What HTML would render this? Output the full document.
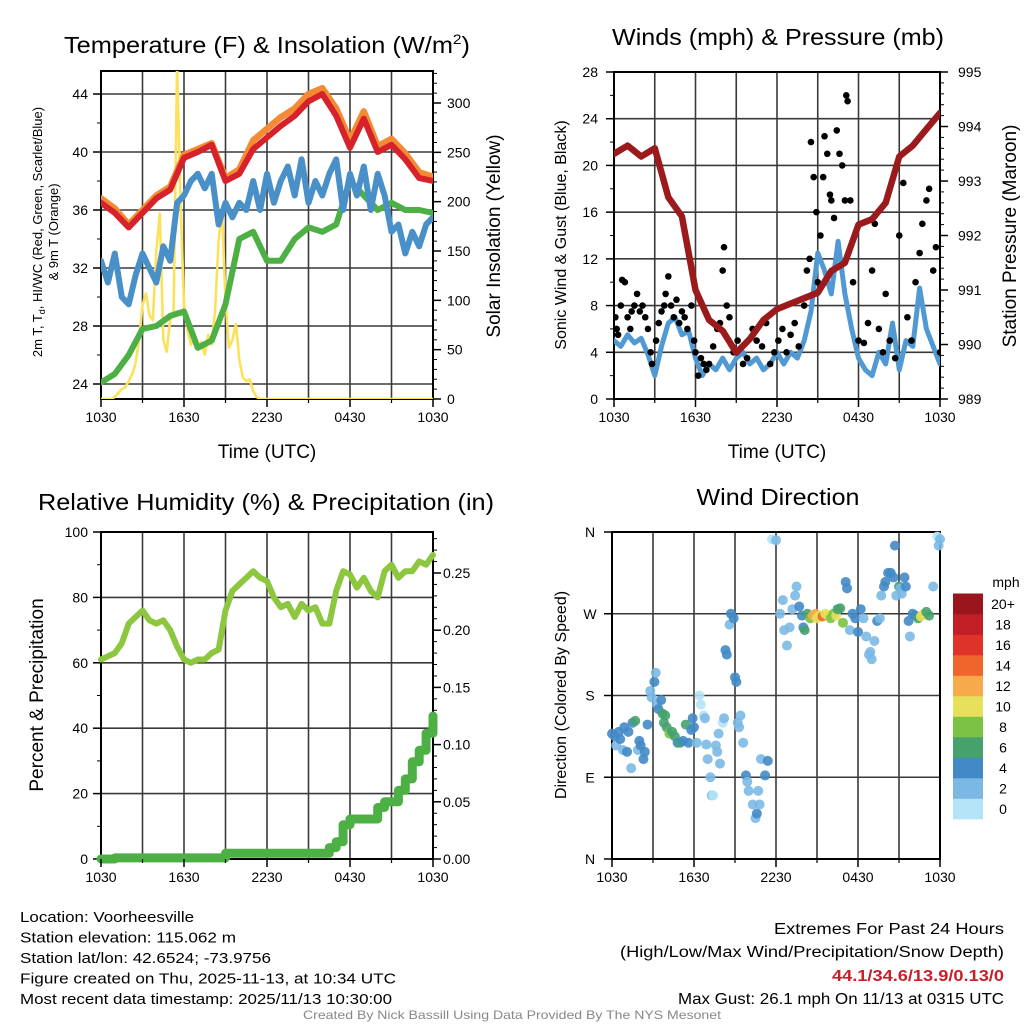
<!DOCTYPE html>
<html><head><meta charset="utf-8"><style>
html,body{margin:0;padding:0;background:#fff;}
svg{display:block;font-family:"Liberation Sans",sans-serif;}
</style></head><body>
<svg id="c" width="1024" height="1024" viewBox="0 0 1024 1024" xmlns="http://www.w3.org/2000/svg"></svg>
<script>
// ---------- DATA ----------
const hourTicks = ["1030","1630","2230","0430","1030"];
// Panel 1 (hourly, h=0..24 from 1030 UTC)
const tempF = [36.5,35.8,34.8,35.8,36.8,37.4,39.6,40.0,40.5,38.0,38.5,40.2,41.0,41.8,42.5,43.5,44.0,42.5,40.3,42.3,40.0,40.5,39.5,38.2,38.0];
const temp9mF = [36.8,36.1,35.0,36.0,37.0,37.6,39.8,40.2,40.6,38.2,38.8,40.8,41.6,42.4,43.0,44.0,44.4,43.0,40.8,42.8,40.4,40.9,39.9,38.6,38.3];
const dewF = [24.1,24.7,26.0,27.8,28.0,28.7,29.0,26.5,27.0,29.5,34.0,34.5,32.5,32.5,34.0,34.8,34.5,35.0,38.0,37.0,36.0,36.5,36.0,36.0,35.8];
// half-hourly wind chill
const windChillF = [32.5,31.0,33.0,30.0,29.5,31.5,33.0,32.0,31.0,33.5,32.5,36.5,37.0,38.0,38.5,37.5,38.5,35.0,36.5,35.5,36.5,36.0,38.0,36.0,38.5,36.5,38.0,39.0,37.0,39.5,36.5,38.0,37.0,38.5,39.5,36.0,38.5,37.0,39.0,36.0,38.5,37.0,34.5,35.0,33.0,34.5,33.5,35.0,35.5];
// quarter-hourly solar for first 12 h, then zero
const solar = [0,0,0,0,2,6,10,12,18,25,36,60,95,107,85,80,150,188,60,48,80,90,340,200,96,70,55,62,50,58,45,65,55,90,160,192,100,52,60,76,40,22,18,20,8,2,0,0,0];
const leftTicks1 = [24,28,32,36,40,44];
const rightTicks1 = [0,50,100,150,200,250,300];
// Panel 2
const windMph = [5,4.5,5.5,4.8,5.2,3.8,2.0,4.5,6.5,7,5.5,5.8,3.5,2.0,3.0,2.5,3.5,2.5,3.5,4.0,3.0,3.5,2.5,3.0,4.0,3.0,4.0,3.5,5.0,7.5,12.5,11,9,13.5,9,6,3.5,2.5,2.0,4.0,3.0,6.5,2.5,5,4.5,9.5,6,4.5,3];
const pressureMb = [993.5,993.65,993.45,993.6,992.7,992.35,991.0,990.45,990.25,989.85,990.1,990.45,990.65,990.75,990.85,990.95,991.35,991.5,992.2,992.3,992.6,993.45,993.65,993.95,994.25];
const gustHours = [0.1,0.2,0.3,0.5,0.6,0.8,1,1.2,1.3,1.5,1.7,1.9,2.1,2.3,2.5,2.7,2.8,3.1,3.3,3.5,3.7,3.8,4,4.2,4.4,4.6,4.8,5,5.2,5.4,5.7,5.9,6,6.2,6.4,6.6,6.8,7,7.3,7.6,7.8,8,8.1,8.3,8.5,8.8,9.1,9.5,9.8,10.2,10.5,10.9,11.2,11.5,11.8,12.1,12.4,12.7,13,13.3,13.6,14,14.2,14.4,14.5,14.7,14.9,15,15.2,15.4,15.5,15.7,15.9,16,16.2,16.4,16.6,16.8,17,17.1,17.2,17.4,17.6,18,18.4,18.7,19,19.2,19.5,19.8,20,20.3,20.7,21,21.3,21.6,21.9,22.2,22.5,22.7,23,23.2,23.5,23.7,24];
const gustMph = [7,6,5.5,8,10.2,10,7,6,7.5,8,9,7.5,8,7,6,4,3,5,6.5,7.5,8,9,10.5,8,7,8.5,6.5,7.5,7,6,8,5,4,2,3.5,3,2.5,3,4.5,6,6.5,11,13,8,7,4,5,3,3.5,6,5,4.5,6.5,3,4,5,6,4,5.5,6.5,4.5,8,11,12,22,19,16,10,14,19,22.5,21,17.5,17,15.5,23,21,20,17,26,25.5,17,10,5,4.8,6.5,11,15,6,4,9,5,3.5,14,18.5,7,5,10,12.5,15,17,18,11,13,4];
const leftTicks2 = [0,4,8,12,16,20,24,28];
const rightTicks2 = [989,990,991,992,993,994,995];
// Panel 3 (half-hourly)
const rhPct = [61,62,63,66,72,74,76,73,72,73,70,65,61,60,61,61,63,64,76,82,84,86,88,86,85,80,77,78,74,78,76,77,72,72,82,88,87,83,86,82,80,88,90,86,88,88,91,90,93];
const precipIn = [0,0,0.001,0.001,0.001,0.001,0.001,0.001,0.001,0.001,0.001,0.001,0.001,0.001,0.001,0.001,0.001,0.001,0.005,0.005,0.005,0.005,0.005,0.005,0.005,0.005,0.005,0.005,0.005,0.005,0.005,0.005,0.005,0.01,0.015,0.03,0.035,0.035,0.035,0.035,0.045,0.05,0.05,0.06,0.07,0.085,0.095,0.11,0.125];
const leftTicks3 = [0,20,40,60,80,100];
const rightTicks3 = ["0.00","0.05","0.10","0.15","0.20","0.25"];
// Panel 4
const dirHours = [0.0,0.2,0.3,0.5,0.6,0.8,0.9,1.1,1.2,1.4,1.5,1.7,1.9,2.0,2.1,2.3,2.4,2.6,2.8,2.9,3.1,3.2,3.3,3.4,3.6,3.7,3.8,3.9,4.0,4.2,4.4,4.6,4.8,5.0,5.2,5.4,5.6,5.8,5.9,6.0,6.2,6.4,6.5,6.7,6.8,6.9,7.0,7.2,7.3,7.4,7.6,7.7,7.8,7.9,8.1,8.2,8.3,8.4,8.6,8.7,8.9,9.0,9.1,9.2,9.3,9.4,9.6,9.8,9.9,10.0,10.3,10.5,10.6,10.7,10.8,10.9,11.2,11.4,11.7,12.0,12.3,12.5,12.6,12.8,13.0,13.2,13.4,13.5,13.7,13.9,14.0,14.1,14.3,14.5,14.7,14.9,15.0,15.2,15.4,15.6,15.8,16.0,16.2,16.4,16.5,16.7,16.9,17.1,17.2,17.4,17.6,17.8,18.0,18.2,18.4,18.6,18.8,18.9,19.0,19.2,19.4,19.6,19.7,19.9,20.0,20.2,20.4,20.6,20.7,20.8,21.0,21.1,21.2,21.4,21.5,21.7,21.8,22.0,22.2,22.4,22.6,22.8,23.0,23.2,23.5,23.8,23.9,24.0];
const dirDeg = [138,135,125,140,132,120,145,118,140,100,150,152,120,130,125,110,118,148,185,178,195,205,170,165,175,160,150,158,145,138,140,135,128,128,130,148,128,142,155,145,128,180,170,158,155,126,110,90,70,70,125,118,138,105,150,155,230,225,258,270,265,200,195,150,145,158,128,92,85,75,60,45,50,75,60,110,92,108,352,351,270,285,252,235,255,275,290,300,278,268,255,252,270,265,268,270,265,268,267,270,268,265,270,268,275,276,260,305,298,252,270,265,250,275,265,245,225,228,220,240,262,265,290,300,305,315,315,310,345,290,300,298,292,310,300,262,245,270,268,265,267,270,272,268,300,355,345,352];
const dirSpeed = [4,4,3,4,4,3,4,4,5,2,4,6,3,5,4,4,4,4,2,2,4,3,2,4,4,6,7,6,7,8,6,6,5,6,4,6,4,4,4,4,2,1,1,1,2,3,2,2,2,1,2,2,3,3,1,2,4,4,3,4,4,4,4,3,3,3,3,4,3,3,3,2,4,3,3,3,4,4,1,3,3,2,2,3,3,2,3,2,4,5,4,6,6,8,12,12,11,10,14,11,10,8,9,10,6,6,8,4,4,3,4,5,4,4,2,2,2,2,3,2,5,2,3,4,4,4,4,4,4,3,7,3,3,4,4,4,2,5,5,6,10,10,7,6,3,1,2,3];
const speedBins = ["0","2","4","6","8","10","12","14","16","18","20+"];
const speedColors = ["#b5e3f7","#7bb9e4","#4289c6","#46a26c","#7cc244","#e7e05a","#f7aa4a","#f0652c","#de3329","#c11e26","#9a161d"];
const dirLabels = ["N","E","S","W","N"];

// ---------- HELPERS ----------
const NS = "http://www.w3.org/2000/svg";
const svg = document.getElementById('c');
function mk(tag, attrs, parent){const e=document.createElementNS(NS,tag);for(const k in attrs)e.setAttribute(k,attrs[k]);(parent||svg).appendChild(e);return e;}
function txt(s, attrs, parent){const e=mk('text',attrs,parent);e.textContent=s;return e;}
function lin(d0,d1,p0,p1){return v=>p0+(v-d0)*(p1-p0)/(d1-d0);}

function frame(g,X0,X1,Y0,Y1,xs,name){
  for(let h=3;h<24;h+=3){const l=mk('line',{x1:xs(h),x2:xs(h),y1:Y0,y2:Y1,stroke:'#3a3a3a','stroke-width':1.6},g);
    
    }
  const r=mk('rect',{x:X0,y:Y0,width:X1-X0,height:Y1-Y0,fill:'none',stroke:'#000','stroke-width':2},g);
  
  
}
function xAxis(g,xs,Yb){
  for(let i=0;i<hourTicks.length;i++){const h=i*6;
    mk('line',{x1:xs(h),x2:xs(h),y1:Yb,y2:Yb+8,stroke:'#000','stroke-width':1.5},g);
    const t=txt(hourTicks[i],{x:xs(h),y:Yb+23,'font-size':14,'text-anchor':'middle'},g);
    
    }
  for(let h=3;h<24;h+=6){mk('line',{x1:xs(h),x2:xs(h),y1:Yb,y2:Yb+4,stroke:'#000','stroke-width':1.2},g);}
}
function pathFrom(vals,step,xs,ys){let d='';vals.forEach((v,i)=>{d+=(i?'L':'M')+xs(i*step).toFixed(1)+','+ys(v).toFixed(1);});return d;}

// ================= PANEL 1 =================
{
const X0=101,X1=433,Y0=71,Y1=399;
const xs=lin(0,24,X0,X1), ys=lin(24,44,384,94), ysR=lin(0,300,399,103);
const g=mk('g',{});


const clip=mk('clipPath',{id:'c1'},g);mk('rect',{x:X0,y:Y0,width:X1-X0,height:Y1-Y0},clip);
leftTicks1.forEach(v=>{const y=ys(v);
  const gl=mk('line',{x1:X0,x2:X1,y1:y,y2:y,stroke:'#3a3a3a','stroke-width':1.6},g);
  
  
  mk('line',{x1:X0-8,x2:X0,y1:y,y2:y,stroke:'#000','stroke-width':1.5},g);
  if(v<44)mk('line',{x1:X0-4,x2:X0,y1:ys(v+2),y2:ys(v+2),stroke:'#000','stroke-width':1},g);
  const t=txt(String(v),{x:X0-13,y:y+5,'font-size':14,'text-anchor':'end'},g);
  
  });
rightTicks1.forEach(v=>{const y=ysR(v);
  mk('line',{x1:X1,x2:X1+8,y1:y,y2:y,stroke:'#000','stroke-width':1.5},g);
  for(let k=10;k<50;k+=10){if(v+k<=330)mk('line',{x1:X1,x2:X1+4,y1:ysR(v+k),y2:ysR(v+k),stroke:'#000','stroke-width':1},g);}
  const t=txt(String(v),{x:X1+14,y:y+5,'font-size':14,'text-anchor':'start'},g);
  
  });
frame(g,X0,X1,Y0,Y1,xs,'temperature-plot');
const d=mk('g',{'clip-path':'url(#c1)'},g);
const sol=mk('path',{d:pathFrom(solar.concat(new Array(49).fill(0)),0.25,xs,ysR),fill:'none',stroke:'#fbe15c','stroke-width':2.6,'stroke-linejoin':'round'},d);


const dw=mk('path',{d:pathFrom(dewF,1,xs,ys),fill:'none',stroke:'#4cb045','stroke-width':6,'stroke-linejoin':'round','stroke-linecap':'round'},d);


const wc=mk('path',{d:pathFrom(windChillF,0.5,xs,ys),fill:'none',stroke:'#4a90c8','stroke-width':6,'stroke-linejoin':'round','stroke-linecap':'round'},d);


const o9=mk('path',{d:pathFrom(temp9mF,1,xs,ys),fill:'none',stroke:'#f58a35','stroke-width':6.5,'stroke-linejoin':'round','stroke-linecap':'round'},d);


const t2=mk('path',{d:pathFrom(tempF,1,xs,ys),fill:'none',stroke:'#d6222a','stroke-width':6,'stroke-linejoin':'round','stroke-linecap':'round'},d);


xAxis(g,xs,Y1);
}

// ================= PANEL 2 =================
{
const X0=614,X1=940,Y0=72,Y1=399;
const xs=lin(0,24,X0,X1), ys=lin(0,28,Y1,Y0), ysR=lin(989,995,Y1,Y0);
const g=mk('g',{});


const clip=mk('clipPath',{id:'c2'},g);mk('rect',{x:X0,y:Y0,width:X1-X0,height:Y1-Y0},clip);
leftTicks2.forEach(v=>{const y=ys(v);
  if(v>0&&v<28){const gl=mk('line',{x1:X0,x2:X1,y1:y,y2:y,stroke:'#3a3a3a','stroke-width':1.6},g);
  
  }
  mk('line',{x1:X0-8,x2:X0,y1:y,y2:y,stroke:'#000','stroke-width':1.5},g);
  if(v<28)mk('line',{x1:X0-4,x2:X0,y1:ys(v+2),y2:ys(v+2),stroke:'#000','stroke-width':1},g);
  const t=txt(String(v),{x:X0-16,y:y+5,'font-size':14,'text-anchor':'end'},g);
  
  });
rightTicks2.forEach(v=>{const y=ysR(v);
  mk('line',{x1:X1,x2:X1+8,y1:y,y2:y,stroke:'#000','stroke-width':1.5},g);
  for(let k=0.2;k<1;k+=0.2){if(v<995)mk('line',{x1:X1,x2:X1+4,y1:ysR(v+k),y2:ysR(v+k),stroke:'#000','stroke-width':1},g);}
  const t=txt(String(v),{x:X1+18,y:y+5,'font-size':14,'text-anchor':'start'},g);
  
  });
frame(g,X0,X1,Y0,Y1,xs,'winds-plot');
const d=mk('g',{'clip-path':'url(#c2)'},g);
const w=mk('path',{d:pathFrom(windMph,0.5,xs,ys),fill:'none',stroke:'#5199d3','stroke-width':5,'stroke-linejoin':'round','stroke-linecap':'round'},d);


gustHours.forEach((h,i)=>{const c=mk('circle',{cx:xs(h),cy:ys(gustMph[i]),r:3.3,fill:'#000'},d);
  
  });
const p=mk('path',{d:pathFrom(pressureMb,1,xs,ysR),fill:'none',stroke:'#9b1a1c','stroke-width':6.5,'stroke-linejoin':'round','stroke-linecap':'round'},d);


xAxis(g,xs,Y1);
}

// ================= PANEL 3 =================
{
const X0=101,X1=433,Y0=532,Y1=859;
const xs=lin(0,24,X0,X1), ys=lin(0,100,Y1,Y0), ysR=lin(0,0.25,Y1,573);
const g=mk('g',{});


const clip=mk('clipPath',{id:'c3'},g);mk('rect',{x:X0-5,y:Y0,width:X1-X0+10,height:Y1-Y0+6},clip);
leftTicks3.forEach(v=>{const y=ys(v);
  if(v>0&&v<100){const gl=mk('line',{x1:X0,x2:X1,y1:y,y2:y,stroke:'#3a3a3a','stroke-width':1.6},g);
  
  }
  mk('line',{x1:X0-8,x2:X0,y1:y,y2:y,stroke:'#000','stroke-width':1.5},g);
  if(v<100)mk('line',{x1:X0-4,x2:X0,y1:ys(v+10),y2:ys(v+10),stroke:'#000','stroke-width':1},g);
  const t=txt(String(v),{x:X0-13,y:y+5,'font-size':14,'text-anchor':'end'},g);
  
  });
rightTicks3.forEach(s=>{const v=parseFloat(s),y=ysR(v);
  mk('line',{x1:X1,x2:X1+8,y1:y,y2:y,stroke:'#000','stroke-width':1.5},g);
  for(let k=0.01;k<0.05;k+=0.01){if(v+k<0.285)mk('line',{x1:X1,x2:X1+4,y1:ysR(v+k),y2:ysR(v+k),stroke:'#000','stroke-width':1},g);}
  const t=txt(s,{x:X1+10,y:y+5,'font-size':14,'text-anchor':'start'},g);
  
  });
frame(g,X0,X1,Y0,Y1,xs,'humidity-plot');
const d=mk('g',{'clip-path':'url(#c3)'},g);
const rh=mk('path',{d:pathFrom(rhPct,0.5,xs,ys),fill:'none',stroke:'#8dc63f','stroke-width':6,'stroke-linejoin':'round','stroke-linecap':'round'},d);


let pd='';precipIn.forEach((v,i)=>{const x=xs(i*0.5),y=ysR(v);pd+=(i?'L'+x.toFixed(1)+','+ysR(precipIn[i-1]).toFixed(1)+'L':'M')+x.toFixed(1)+','+y.toFixed(1);});
const pr=mk('path',{d:pd,fill:'none',stroke:'#4cb045','stroke-width':9,'stroke-linejoin':'round','stroke-linecap':'round'},d);


xAxis(g,xs,Y1);
}

// ================= PANEL 4 =================
{
const X0=612,X1=940,Y0=532,Y1=859;
const xs=lin(0,24,X0,X1), ys=lin(0,360,Y1,Y0);
const g=mk('g',{});


dirLabels.forEach((s,i)=>{const v=i*90,y=ys(v);
  if(i>0&&i<4){const gl=mk('line',{x1:X0,x2:X1,y1:y,y2:y,stroke:'#3a3a3a','stroke-width':1.6},g);
  
  }
  mk('line',{x1:X0-8,x2:X0,y1:y,y2:y,stroke:'#000','stroke-width':1.5},g);
  const t=txt(s,{x:X0-22,y:y+5,'font-size':14,'text-anchor':'middle'},g);
  
  });
frame(g,X0,X1,Y0,Y1,xs,'wind-direction-plot');
dirHours.forEach((h,i)=>{const b=Math.min(10,Math.floor(dirSpeed[i]/2));
  const c=mk('circle',{cx:xs(h),cy:ys(dirDeg[i]),r:5,fill:speedColors[b],'fill-opacity':0.9},g);
  
  });
xAxis(g,xs,Y1);
const cb=mk('g',{},g);


const bh=20.5;
speedBins.forEach((s,i)=>{const y=819-(i+1)*bh;
  const r=mk('rect',{x:953,y:y,width:30,height:bh+0.3,fill:speedColors[i]},cb);
  
  
  const t=txt(s,{x:1003,y:y+bh/2+5,'font-size':14,'text-anchor':'middle'},cb);
  
  });
const u=txt('mph',{x:1006,y:587,'font-size':14,'text-anchor':'middle'},cb);


}
</script>
<script>
(function(){
const NS="http://www.w3.org/2000/svg",svg=document.getElementById('c');
function T(s,a){const e=document.createElementNS(NS,'text');for(const k in a)e.setAttribute(k,a[k]);e.textContent=s;svg.appendChild(e);return e;}
let e;
e=T('',{x:64,y:53,'font-size':23,textLength:406,lengthAdjust:'spacingAndGlyphs'});
e.innerHTML='Temperature (F) &amp; Insolation (W/m<tspan dy="-9" font-size="14">2</tspan><tspan dy="9">)</tspan>';


e=T('Winds (mph) & Pressure (mb)',{x:778,y:45,'font-size':23,'text-anchor':'middle',textLength:332,lengthAdjust:'spacingAndGlyphs'});


e=T('Relative Humidity (%) & Precipitation (in)',{x:266,y:510,'font-size':23,'text-anchor':'middle',textLength:456,lengthAdjust:'spacingAndGlyphs'});


e=T('Wind Direction',{x:778,y:505,'font-size':23,'text-anchor':'middle',textLength:163,lengthAdjust:'spacingAndGlyphs'});


e=T('Time (UTC)',{x:267,y:458,'font-size':19,'text-anchor':'middle'});


e=T('Time (UTC)',{x:777,y:458,'font-size':19,'text-anchor':'middle'});


e=T('',{x:0,y:0,'font-size':13,'text-anchor':'middle',transform:'translate(42,232) rotate(-90)'});
e.innerHTML='2m T, T<tspan dy="3" font-size="9">d</tspan><tspan dy="-3">, HI/WC (Red, Green, Scarlet/Blue)</tspan>';


e=T('& 9m T (Orange)',{x:0,y:0,'font-size':13,'text-anchor':'middle',transform:'translate(58,232) rotate(-90)'});


e=T('Solar Insolation (Yellow)',{x:0,y:0,'font-size':19,'text-anchor':'middle',transform:'translate(500,236) rotate(-90)'});


e=T('Sonic Wind & Gust (Blue, Black)',{x:0,y:0,'font-size':16,'text-anchor':'middle',transform:'translate(566,235) rotate(-90)'});


e=T('Station Pressure (Maroon)',{x:0,y:0,'font-size':19,'text-anchor':'middle',transform:'translate(1016,236) rotate(-90)'});


e=T('Percent & Precipitation',{x:0,y:0,'font-size':19,'text-anchor':'middle',transform:'translate(43,695) rotate(-90)'});


e=T('Direction (Colored By Speed)',{x:0,y:0,'font-size':16,'text-anchor':'middle',transform:'translate(566,695) rotate(-90)'});


const L=[['Location: Voorheesville',174,'location-text'],['Station elevation: 115.062 m',216,'elevation-text'],['Station lat/lon: 42.6524; -73.9756',251,'latlon-text'],['Figure created on Thu, 2025-11-13, at 10:34 UTC',376,'created-text'],['Most recent data timestamp: 2025/11/13 10:30:00',372,'timestamp-text']];
L.forEach((l,i)=>{const t=T(l[0],{x:20,y:922+i*20.5,'font-size':15,textLength:l[1],lengthAdjust:'spacingAndGlyphs'});

});
const R=[['Extremes For Past 24 Hours',230,934,'#000','normal','extremes-title'],['(High/Low/Max Wind/Precipitation/Snow Depth)',384,957,'#000','normal','extremes-subtitle'],['44.1/34.6/13.9/0.13/0',172,981,'#c8202a','bold','extremes-values'],['Max Gust: 26.1 mph On 11/13 at 0315 UTC',326,1004,'#000','normal','max-gust-text']];
R.forEach(r=>{const t=T(r[0],{x:1004,y:r[2],'font-size':15.5,'text-anchor':'end',fill:r[3],'font-weight':r[4],textLength:r[1],lengthAdjust:'spacingAndGlyphs'});

});
e=T('Created By Nick Bassill Using Data Provided By The NYS Mesonet',{x:512,y:1019,'font-size':12,'text-anchor':'middle',fill:'#888',textLength:418,lengthAdjust:'spacingAndGlyphs'});


})();
</script>
</body></html>
